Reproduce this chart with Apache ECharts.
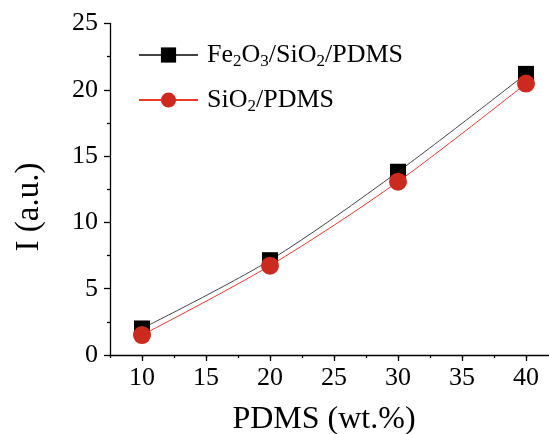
<!DOCTYPE html>
<html>
<head>
<meta charset="utf-8">
<style>
  html, body { margin: 0; padding: 0; background: #fff; }
  #chart { width: 549px; height: 434px; }
</style>
<script src="https://cdn.jsdelivr.net/npm/echarts@6/dist/echarts.min.js"></script>
</head>
<body>
<div id="chart"></div>
<script>
// PDMS content (wt.%) and measured intensity for the two composites
const pdmsContent = [10, 20, 30, 40];
const fe2o3SiO2Pdms = [2.0, 7.15, 13.82, 21.2];
const sio2Pdms = [1.5, 6.74, 13.07, 20.47];

// Tick positions of the PDMS axis
const xMinorTicks = [7.5, 10, 12.5, 15, 17.5, 20, 22.5, 25, 27.5, 30, 32.5, 35, 37.5, 40, 42.5];
const xMajorTicks = [10, 15, 20, 25, 30, 35, 40];

const SERIF = 'Liberation Serif';

const chart = echarts.init(document.getElementById('chart'), null, { renderer: 'canvas' });

const subRich = {
  main: { fontFamily: SERIF, fontSize: 26, color: '#000', lineHeight: 30 },
  sub: { fontFamily: SERIF, fontSize: 17, color: '#000', lineHeight: 17, verticalAlign: 'bottom' }
};

function toPairs(xs, ys) {
  return xs.map((x, i) => [x, ys[i]]);
}

function legendBox(name, top) {
  return {
    data: [name],
    left: 138,
    top: top,
    padding: 0,
    orient: 'vertical',
    itemWidth: 59,
    itemHeight: 19,
    selectedMode: false,
    formatter: function (n) {
      if (n === 'Fe2O3/SiO2/PDMS') {
        return '{main|Fe}{sub|2}{main|O}{sub|3}{main|/SiO}{sub|2}{main|/PDMS}';
      }
      return '{main|SiO}{sub|2}{main|/PDMS}';
    },
    textStyle: { padding: [0, 0, 0, 4], rich: subRich }
  };
}

const axisLineStyle = { color: '#000', width: 1.3 };

chart.setOption({
  animation: false,
  backgroundColor: '#fff',
  grid: {
    left: 110,
    top: 23.5,
    bottom: 79,
    right: -9,
    outerBoundsMode: 'none'
  },
  legend: [
    legendBox('Fe2O3/SiO2/PDMS', 42),
    legendBox('SiO2/PDMS', 87)
  ],
  xAxis: [
    {
      type: 'value',
      min: 7.5,
      max: 42.5,
      interval: 2.5,
      axisLine: { show: true, lineStyle: axisLineStyle },
      axisTick: { show: true, inside: false, length: 3, customValues: xMinorTicks, lineStyle: axisLineStyle },
      axisLabel: {
        show: true,
        margin: 10,
        fontFamily: SERIF,
        fontSize: 26,
        color: '#000',
        customValues: xMajorTicks,
        formatter: function (v) { return String(v); }
      },
      splitLine: { show: false }
    },
    {
      type: 'value',
      min: 7.5,
      max: 42.5,
      position: 'bottom',
      axisLine: { show: false },
      axisTick: { show: true, inside: false, length: 6, customValues: xMajorTicks, lineStyle: axisLineStyle },
      axisLabel: { show: false },
      splitLine: { show: false }
    }
  ],
  yAxis: {
    type: 'value',
    min: 0,
    max: 25,
    interval: 5,
    axisLine: { show: true, lineStyle: axisLineStyle },
    axisTick: { show: true, inside: false, length: 6, lineStyle: axisLineStyle },
    minorTick: { show: true, splitNumber: 2, length: 3, lineStyle: axisLineStyle },
    axisLabel: { margin: 12, fontFamily: SERIF, fontSize: 26, color: '#000' },
    splitLine: { show: false },
    minorSplitLine: { show: false }
  },
  graphic: [
    {
      type: 'text',
      x: 324,
      y: 420,
      style: {
        text: 'PDMS (wt.%)',
        fontFamily: SERIF,
        fontSize: 32,
        fill: '#000',
        align: 'center',
        verticalAlign: 'middle'
      }
    },
    {
      type: 'text',
      x: 29,
      y: 207,
      rotation: Math.PI / 2,
      style: {
        text: 'I (a.u.)',
        fontFamily: SERIF,
        fontSize: 33,
        fill: '#000',
        align: 'center',
        verticalAlign: 'middle'
      }
    }
  ],
  series: [
    {
      name: 'Fe2O3/SiO2/PDMS',
      type: 'line',
      xAxisIndex: 0,
      data: toPairs(pdmsContent, fe2o3SiO2Pdms),
      smooth: 0.3,
      symbol: 'rect',
      symbolSize: 16,
      lineStyle: { color: '#444', width: 1 },
      itemStyle: { color: '#000' },
      z: 2
    },
    {
      name: 'SiO2/PDMS',
      type: 'line',
      xAxisIndex: 0,
      data: toPairs(pdmsContent, sio2Pdms),
      smooth: 0.3,
      symbol: 'circle',
      symbolSize: 18,
      lineStyle: { color: '#e8392c', width: 1 },
      itemStyle: { color: '#cc2a1f' },
      z: 3
    }
  ]
});
</script>
</body>
</html>
